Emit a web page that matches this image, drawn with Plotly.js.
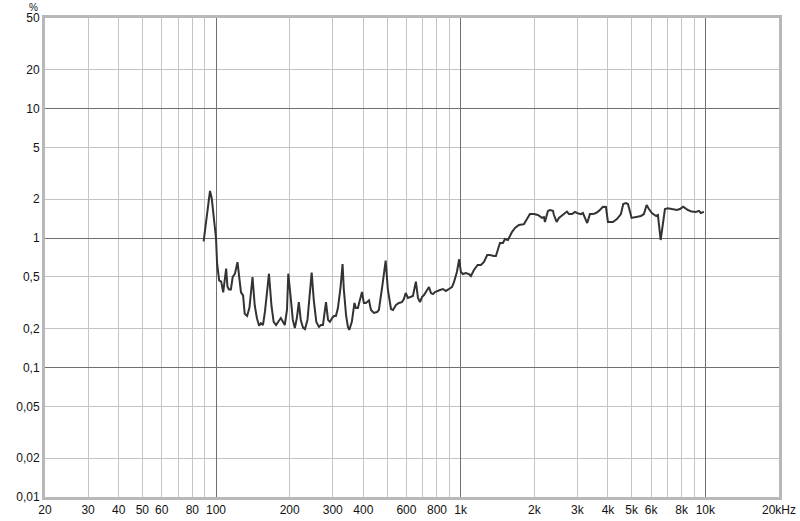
<!DOCTYPE html>
<html>
<head>
<meta charset="utf-8">
<script src="https://cdn.plot.ly/plotly-3.0.1.min.js"></script>
<style>
  html, body { margin: 0; padding: 0; background: #ffffff; }
  #chart { width: 800px; height: 521px; }
</style>
</head>
<body>
<div id="chart"></div>
<script>
// Frequency (Hz)
const freqHz = [
  89, 94.5, 96, 98, 100, 101, 102, 103, 105, 107,
  110, 111.4, 113, 115, 117, 119.5, 122.4, 124, 126.5, 129,
  131, 134, 137, 141, 144, 147, 150, 152.6, 155.6, 158.5,
  164.6, 168.5, 172, 176, 181, 184, 188, 191, 195, 197.4,
  202.5, 206, 210, 214, 218, 222, 227, 231, 236.5, 246,
  251, 257, 263.5, 268.5, 273.6, 281.5, 287, 292, 298, 303.5,
  309, 315, 323, 329, 333, 340, 346, 350.5, 359, 368,
  373, 380, 395, 402, 410, 422, 430, 442, 455, 463,
  479, 493.5, 504, 519, 529, 544, 559, 575, 586, 596,
  609, 626, 638, 656, 669, 682, 694.5, 708, 728, 742,
  756, 770, 785, 800, 823, 846, 870, 895, 921, 939,
  965, 986, 1002, 1021, 1050, 1081, 1101, 1133, 1173, 1210,
  1245, 1284, 1317, 1367, 1393, 1447, 1488, 1517, 1560, 1620,
  1667, 1730, 1780, 1814, 1866, 1919, 1993, 2069, 2149, 2189,
  2210, 2273, 2317, 2383, 2405, 2467, 2521, 2618, 2719, 2770,
  2850, 2931, 2987, 3100, 3159, 3290, 3375, 3472, 3571, 3673,
  3814, 3925, 3998, 4191, 4351, 4518, 4617, 4737, 4827, 4996,
  5204, 5454, 5610, 5754, 5880, 6047, 6281, 6400, 6566, 6710,
  6837, 7031, 7369, 7652, 7871, 8119, 8486, 8788, 9151, 9412,
  9592, 9865
];
// Distortion (%)
const distPct = [
  0.94, 2.31, 2.04, 1.43, 1.0, 0.64, 0.52, 0.47, 0.46, 0.38,
  0.58, 0.42, 0.40, 0.40, 0.50, 0.53, 0.65, 0.52, 0.38, 0.36,
  0.26, 0.25, 0.29, 0.50, 0.30, 0.24, 0.21, 0.22, 0.213, 0.27,
  0.53, 0.30, 0.225, 0.213, 0.233, 0.241, 0.225, 0.213, 0.278, 0.53,
  0.33, 0.233, 0.202, 0.241, 0.32, 0.233, 0.202, 0.198, 0.233, 0.54,
  0.33, 0.225, 0.206, 0.213, 0.213, 0.32, 0.233, 0.225, 0.241, 0.25,
  0.25, 0.288, 0.42, 0.63, 0.40, 0.254, 0.206, 0.195, 0.225, 0.315,
  0.288, 0.288, 0.383, 0.315, 0.315, 0.33, 0.278, 0.264, 0.268, 0.278,
  0.434, 0.67, 0.40, 0.283, 0.278, 0.304, 0.315, 0.32, 0.338, 0.376,
  0.344, 0.35, 0.357, 0.46, 0.344, 0.32, 0.35, 0.363, 0.39, 0.418,
  0.376, 0.369, 0.383, 0.39, 0.397, 0.404, 0.39, 0.404, 0.418, 0.457,
  0.546, 0.685, 0.546, 0.527, 0.537, 0.527, 0.509, 0.566, 0.619, 0.619,
  0.653, 0.739, 0.739, 0.726, 0.726, 0.915, 0.915, 0.982, 0.965, 1.11,
  1.195, 1.26, 1.28, 1.28, 1.40, 1.53, 1.53, 1.505, 1.43, 1.45,
  1.33, 1.62, 1.645, 1.62, 1.505, 1.33, 1.43, 1.505, 1.60, 1.53,
  1.53, 1.59, 1.56, 1.53, 1.56, 1.305, 1.53, 1.53, 1.56, 1.62,
  1.745, 1.735, 1.33, 1.33, 1.40, 1.53, 1.83, 1.86, 1.83, 1.43,
  1.45, 1.48, 1.53, 1.80, 1.675, 1.56, 1.48, 1.505, 0.965, 1.26,
  1.675, 1.70, 1.675, 1.645, 1.675, 1.745, 1.645, 1.60, 1.59, 1.62,
  1.56, 1.59
];

// Axis ticks / grid
const xGridVals = [20, 30, 40, 50, 60, 70, 80, 90,
  100, 200, 300, 400, 500, 600, 700, 800, 900,
  1000, 2000, 3000, 4000, 5000, 6000, 7000, 8000, 9000,
  10000, 20000];
const xGridText = ['20', '30', '40', '50', '60', '', '80', '',
  '100', '200', '300', '400', '', '600', '', '800', '',
  '1k', '2k', '3k', '4k', '5k', '6k', '', '8k', '',
  '10k', '20kHz'];
const xDecades = [100, 1000, 10000];
const yGridVals = [0.01, 0.02, 0.05, 0.1, 0.2, 0.5, 1, 2, 5, 10, 20, 50];
const yGridText = ['0,01', '0,02', '0,05', '0,1', '0,2', '0,5', '1', '2', '5', '10', '20', '50'];
const yDecades = [0.1, 1, 10];

const xRange = [Math.log10(20), Math.log10(20000)];
const yRange = [-2, Math.log10(50)];

// placeholder trace so the labelled base axes exist
const baseTrace = {
  x: [], y: [], type: 'scatter', mode: 'lines', xaxis: 'x', yaxis: 'y', hoverinfo: 'skip'
};
const trace = {
  x: freqHz, y: distPct, type: 'scatter', mode: 'lines',
  xaxis: 'x2', yaxis: 'y2',
  line: { color: '#333333', width: 2 }, hoverinfo: 'skip'
};

const layout = {
  width: 800, height: 521,
  margin: { l: 45, r: 21, t: 18, b: 24, pad: 0 },
  paper_bgcolor: '#ffffff', plot_bgcolor: '#ffffff',
  showlegend: false,
  font: { family: 'Liberation Sans, Arial, sans-serif', size: 12, color: '#111111' },
  xaxis: {
    type: 'log', range: xRange,
    tickmode: 'array', tickvals: xGridVals, ticktext: xGridText,
    ticks: '', showgrid: true, gridcolor: '#c4c4c4', gridwidth: 1,
    zeroline: false, showline: true, linecolor: '#b8b8b8', linewidth: 3, mirror: true,
    tickfont: { size: 12, color: '#111111' }, fixedrange: true
  },
  yaxis: {
    type: 'log', range: yRange,
    tickmode: 'array', tickvals: yGridVals, ticktext: yGridText,
    ticks: '', showgrid: true, gridcolor: '#c4c4c4', gridwidth: 1,
    zeroline: false, showline: true, linecolor: '#b8b8b8', linewidth: 3, mirror: true,
    tickfont: { size: 12, color: '#111111' }, fixedrange: true
  },
  xaxis2: {
    type: 'log', range: xRange, overlaying: 'x', anchor: 'y2',
    tickmode: 'array', tickvals: xDecades, showticklabels: false, ticks: '',
    showgrid: true, gridcolor: '#707070', gridwidth: 1,
    zeroline: false, showline: false, fixedrange: true
  },
  yaxis2: {
    type: 'log', range: yRange, overlaying: 'y', anchor: 'x2',
    tickmode: 'array', tickvals: yDecades, showticklabels: false, ticks: '',
    showgrid: true, gridcolor: '#707070', gridwidth: 1,
    zeroline: false, showline: false, fixedrange: true
  },
  annotations: [{
    text: '%', xref: 'paper', yref: 'paper', x: -0.0163, y: 1, xanchor: 'center', yanchor: 'bottom',
    yshift: 4, borderpad: 0, showarrow: false, font: { size: 10, color: '#111111' }
  }]
};

Plotly.newPlot('chart', [baseTrace, trace], layout, { staticPlot: true, displayModeBar: false });
</script>
</body>
</html>
